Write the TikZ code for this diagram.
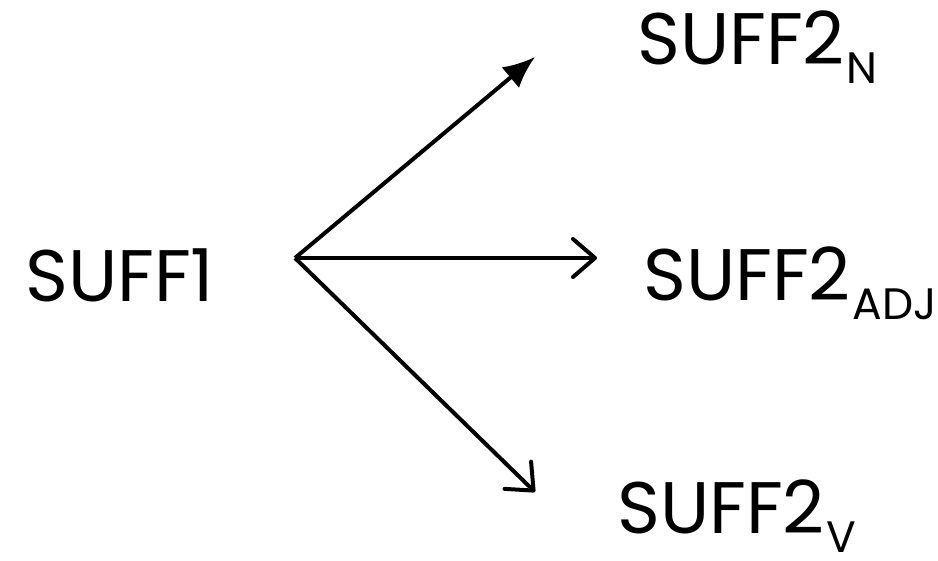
\documentclass[tikz,border=0pt]{standalone}
\usepackage{fontspec}
\setmainfont{Poppins}
\usetikzlibrary{arrows.meta}
\newcommand{\mainsz}{\fontsize{73}{73}\selectfont}
\newcommand{\subsz}[1]{\hspace{2pt}\raisebox{-19pt}{\fontsize{44}{44}\selectfont #1}}
\tikzset{
  lbl/.style={anchor=base west, inner sep=0pt, font=\mainsz},
  arr/.style={line width=4pt, black},
  barb/.style={arr, -{Straight Barb[length=22pt,width=38pt,round]}},
  tri/.style={arr, -{Latex[length=32pt,width=27pt]}}
}
\begin{document}
\begin{tikzpicture}[x=1pt,y=-1pt]
\useasboundingbox[fill=white] (0,0) rectangle (938,561);
\coordinate (o) at (295,258);
\coordinate (tN) at (535,57);
\coordinate (tA) at (597,258);
\coordinate (tV) at (535,492);
\node[lbl] (s1) at (25,302) {SUFF1};
\node[lbl] (sN) at (637,65) {SUFF2\subsz{N}};
\node[lbl] (sA) at (643,301) {SUFF2\subsz{ADJ}};
\node[lbl] (sV) at (617,533) {SUFF2\subsz{V}};
\draw[tri] (o) -- (tN);
\draw[barb] (o) -- (tA);
\draw[barb] (o) -- (tV);
\end{tikzpicture}
\end{document}
